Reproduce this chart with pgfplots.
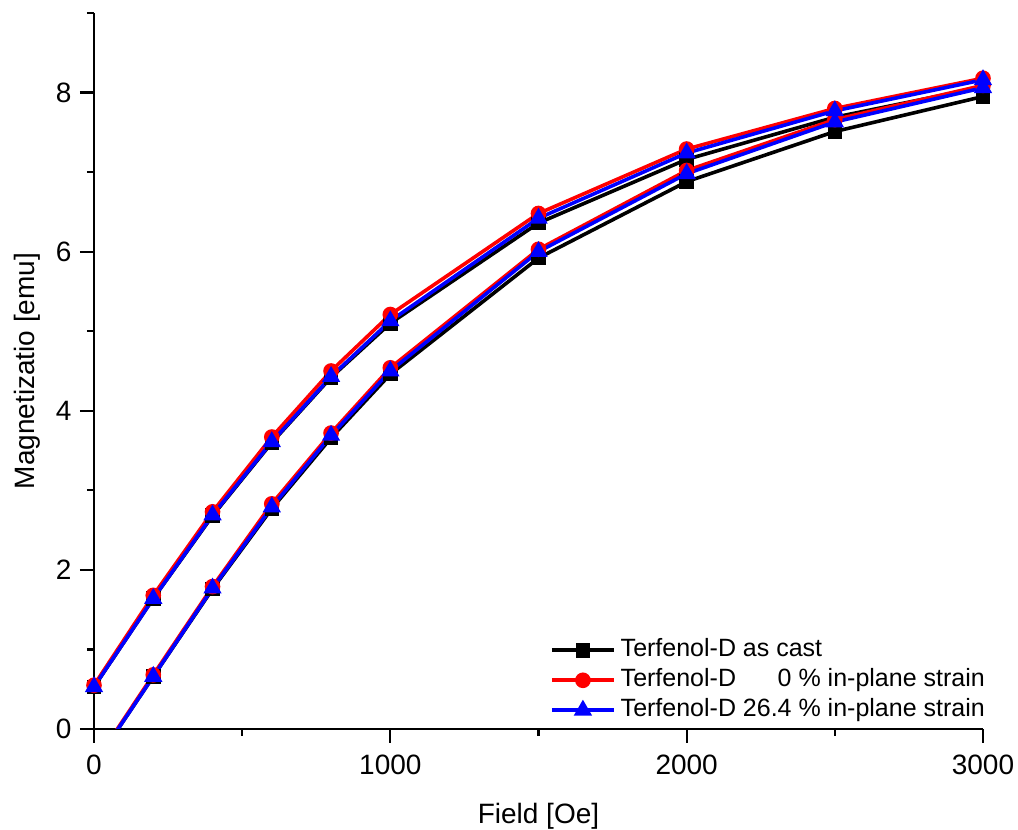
\documentclass[border=0pt]{standalone}
\usepackage{fontspec}
\setmainfont{Liberation Sans}
\usepackage{pgfplots}
\pgfplotsset{compat=1.18}
\definecolor{cblue}{RGB}{0,0,255}
\definecolor{cred}{RGB}{255,0,0}
\begin{document}
\begin{tikzpicture}
\begin{axis}[
  scale only axis,
  width=889pt, height=716pt,
  xmin=0, xmax=3000, ymin=0, ymax=9,
  axis x line*=bottom, axis y line*=left,
  axis line style={line width=2.2pt},
  xtick={0,1000,2000,3000}, minor xtick={500,1500,2500},
  ytick={0,2,4,6,8}, minor ytick={1,3,5,7,9},
  tick align=outside,
  major tick length=14pt, minor tick length=7pt,
  tick style={line width=2.2pt, black},
  /pgf/number format/assume math mode=true,
  /pgf/number format/1000 sep={},
  tick label style={font=\fontsize{28}{32}\selectfont},
  xticklabel style={yshift=-8pt},
  yticklabel style={xshift=-5pt},
  label style={font=\fontsize{28}{32}\selectfont},
  xlabel={Field [Oe]}, ylabel={Magnetizatio [emu]},
  xlabel style={at={(axis description cs:0.5,0)}, anchor=base, yshift=-94pt},
  ylabel style={at={(axis description cs:0,0.5)}, anchor=base, yshift=59pt},
  legend image code/.code={\draw[mark repeat=2,mark phase=2,#1] plot coordinates {(0pt,0pt) (31pt,0pt) (62pt,0pt)};},
  legend style={draw=none, fill=none, at={(axis description cs:1,0)}, anchor=south east,
    xshift=2pt, yshift=6pt, font=\fontsize{25}{30}\selectfont, inner sep=0pt,
    nodes={inner sep=0pt, text height=19pt, text depth=6pt},
    row sep=5pt, column sep=5pt},
  legend cell align=left,
  clip=true,
]
\addplot[black, line width=3.6pt, mark=square*, mark size=5.5pt, mark options={solid}] coordinates {
(0,0.53) (200,1.64) (400,2.68) (600,3.60) (800,4.42) (1000,5.10) (1500,6.36) (2000,7.16) (2500,7.69) (3000,8.07)};
\addlegendentry{Terfenol-D as cast}
\addplot[forget plot, black, line width=3.6pt, mark=square*, mark size=5.5pt] coordinates {
(0,-0.45) (200,0.66) (400,1.76) (600,2.77) (800,3.66) (1000,4.46) (1500,5.92) (2000,6.88) (2500,7.51) (3000,7.95)};
\addplot[cred, line width=3.6pt, mark=*, mark size=6pt] coordinates {
(0,0.55) (200,1.68) (400,2.73) (600,3.67) (800,4.50) (1000,5.21) (1500,6.48) (2000,7.29) (2500,7.80) (3000,8.18)};
\addlegendentry{Terfenol-D \phantom{26.}0 \% in-plane strain}
\addplot[forget plot, cred, line width=3.6pt, mark=*, mark size=6pt] coordinates {
(0,-0.44) (200,0.68) (400,1.79) (600,2.83) (800,3.72) (1000,4.54) (1500,6.03) (2000,7.02) (2500,7.66) (3000,8.09)};
\addplot[cblue, line width=3.6pt, mark=triangle*, mark size=7pt] coordinates {
(0,0.53) (200,1.64) (400,2.69) (600,3.61) (800,4.43) (1000,5.13) (1500,6.42) (2000,7.24) (2500,7.77) (3000,8.16)};
\addlegendentry{Terfenol-D 26.4 \% in-plane strain}
\addplot[forget plot, cblue, line width=3.6pt, mark=triangle*, mark size=7pt] coordinates {
(0,-0.45) (200,0.66) (400,1.77) (600,2.79) (800,3.69) (1000,4.50) (1500,6.00) (2000,6.98) (2500,7.63) (3000,8.06)};
\end{axis}
\pgfresetboundingbox
\useasboundingbox (-94pt,-101pt) rectangle (924pt,729pt);
\end{tikzpicture}
\end{document}
